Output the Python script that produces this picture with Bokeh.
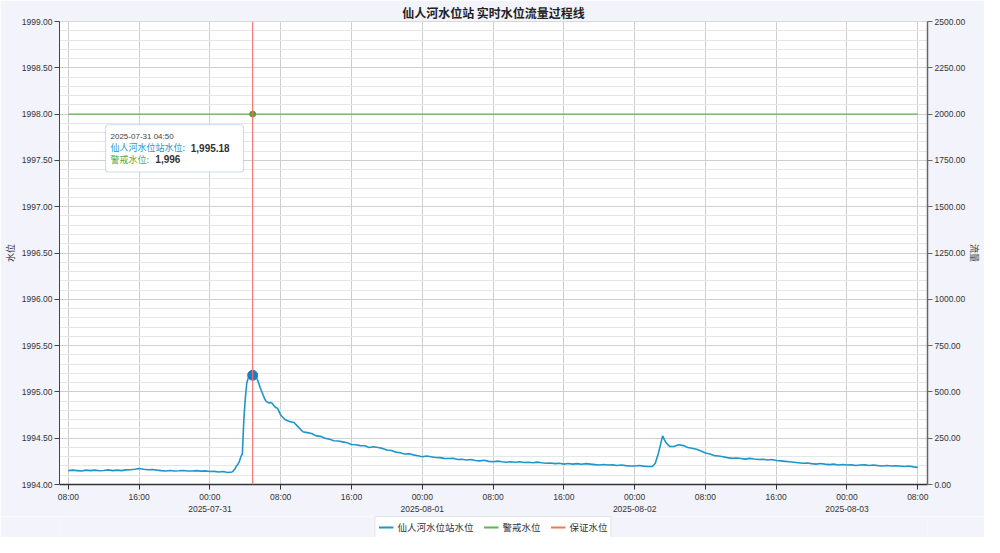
import pandas as pd
from bokeh.plotting import figure
from bokeh.layouts import column
from bokeh.models import (Range1d, LinearAxis, FixedTicker, SingleIntervalTicker,
                          CustomJSTickFormatter, NumeralTickFormatter, Span, Legend,
                          LegendItem, BoxAnnotation, ColumnDataSource, Label)
from bokeh.embed import file_html
from bokeh.resources import INLINE

# ---------------- data ----------------
day1_date = "2025-07-30"
day1_times = ["08:00", "08:30", "09:00", "09:30", "10:00", "10:30", "11:00", "11:30",
              "12:00", "12:30", "13:00", "13:30", "14:00", "14:30", "15:00", "15:30",
              "16:00", "16:30", "17:00", "17:30", "18:00", "18:30", "19:00", "19:30",
              "20:00", "20:30", "21:00", "21:30", "22:00", "22:30", "23:00", "23:30"]
day1_level = [1994.150, 1994.155, 1994.150, 1994.145, 1994.155, 1994.150, 1994.155, 1994.148,
              1994.152, 1994.158, 1994.150, 1994.155, 1994.150, 1994.158, 1994.160, 1994.165,
              1994.172, 1994.165, 1994.160, 1994.162, 1994.155, 1994.150, 1994.146, 1994.152,
              1994.145, 1994.148, 1994.152, 1994.145, 1994.146, 1994.150, 1994.144, 1994.147]

day2_date = "2025-07-31"
day2_times = ["00:00", "00:30", "01:00", "01:30", "02:00", "02:30", "02:40", "02:50",
              "03:00", "03:10", "03:20", "03:30", "03:40", "03:50", "04:00", "04:10",
              "04:20", "04:30", "04:40", "04:50", "05:00", "05:10", "05:20", "05:30",
              "05:40", "05:50", "06:00", "06:10", "06:20", "06:30", "06:40", "06:50",
              "07:00", "07:20", "07:40", "08:00", "08:30", "09:00", "09:30", "10:00",
              "10:30", "11:00", "11:30", "12:00", "12:30", "13:00", "13:30", "14:00",
              "14:30", "15:00", "15:30", "16:00", "16:30", "17:00", "17:30", "18:00",
              "18:30", "19:00", "19:30", "20:00", "20:30", "21:00", "21:30", "22:00",
              "22:30", "23:00", "23:30"]
day2_level = [1994.140, 1994.142, 1994.135, 1994.140, 1994.130, 1994.135, 1994.150, 1994.170,
              1994.200, 1994.220, 1994.250, 1994.300, 1994.330, 1994.700, 1994.930, 1995.100,
              1995.150, 1995.160, 1995.170, 1995.180, 1995.170, 1995.160, 1995.140, 1995.100,
              1995.050, 1995.010, 1994.970, 1994.930, 1994.900, 1994.890, 1994.880, 1994.885,
              1994.880, 1994.840, 1994.820, 1994.750, 1994.700, 1994.680, 1994.670, 1994.620,
              1994.570, 1994.560, 1994.550, 1994.525, 1994.520, 1994.500, 1994.490, 1994.472,
              1994.470, 1994.460, 1994.450, 1994.432, 1994.430, 1994.420, 1994.418, 1994.400,
              1994.408, 1994.400, 1994.390, 1994.372, 1994.368, 1994.350, 1994.342, 1994.330,
              1994.332, 1994.320, 1994.310]

day3_date = "2025-08-01"
day3_times = ["00:00", "00:30", "01:00", "01:30", "02:00", "02:30", "03:00", "03:30",
              "04:00", "04:30", "05:00", "05:30", "06:00", "06:30", "07:00", "07:30",
              "08:00", "08:30", "09:00", "09:30", "10:00", "10:30", "11:00", "11:30",
              "12:00", "12:30", "13:00", "13:30", "14:00", "14:30", "15:00", "15:30",
              "16:00", "16:30", "17:00", "17:30", "18:00", "18:30", "19:00", "19:30",
              "20:00", "20:30", "21:00", "21:30", "22:00", "22:30", "23:00", "23:30"]
day3_level = [1994.300, 1994.308, 1994.300, 1994.292, 1994.290, 1994.282, 1994.280, 1994.284,
              1994.270, 1994.272, 1994.265, 1994.270, 1994.260, 1994.255, 1994.262, 1994.250,
              1994.245, 1994.252, 1994.245, 1994.240, 1994.246, 1994.240, 1994.245, 1994.238,
              1994.240, 1994.235, 1994.242, 1994.235, 1994.230, 1994.232, 1994.225, 1994.230,
              1994.220, 1994.226, 1994.220, 1994.225, 1994.218, 1994.225, 1994.220, 1994.215,
              1994.210, 1994.216, 1994.210, 1994.212, 1994.205, 1994.210, 1994.204, 1994.200]

day4_date = "2025-08-02"
day4_times = ["00:00", "00:30", "01:00", "01:30", "02:00", "02:20", "02:40", "03:00",
              "03:10", "03:20", "03:30", "03:45", "04:00", "04:30", "05:00", "05:30",
              "06:00", "06:30", "07:00", "07:30", "08:00", "08:30", "09:00", "09:30",
              "10:00", "10:30", "11:00", "11:30", "12:00", "12:30", "13:00", "13:30",
              "14:00", "14:30", "15:00", "15:30", "16:00", "16:30", "17:00", "17:30",
              "18:00", "18:30", "19:00", "19:30", "20:00", "20:30", "21:00", "21:30",
              "22:00", "22:30", "23:00", "23:30"]
day4_level = [1994.200, 1994.205, 1994.198, 1994.195, 1994.195, 1994.230, 1994.330, 1994.460,
              1994.525, 1994.490, 1994.460, 1994.430, 1994.410, 1994.412, 1994.430, 1994.420,
              1994.400, 1994.392, 1994.380, 1994.362, 1994.340, 1994.330, 1994.312, 1994.308,
              1994.300, 1994.290, 1994.282, 1994.286, 1994.280, 1994.274, 1994.282, 1994.275,
              1994.270, 1994.272, 1994.265, 1994.270, 1994.260, 1994.255, 1994.250, 1994.245,
              1994.240, 1994.235, 1994.230, 1994.232, 1994.225, 1994.220, 1994.226, 1994.220,
              1994.215, 1994.220, 1994.210, 1994.216]

day5_date = "2025-08-03"
day5_times = ["00:00", "00:30", "01:00", "01:30", "02:00", "02:30", "03:00", "03:30",
              "04:00", "04:30", "05:00", "05:30", "06:00", "06:30", "07:00", "07:30", "08:00"]
day5_level = [1994.210, 1994.212, 1994.205, 1994.210, 1994.212, 1994.205, 1994.210, 1994.204,
              1994.200, 1994.206, 1994.200, 1994.202, 1994.200, 1994.195, 1994.200, 1994.190,
              1994.185]

warn_level_value = 1998.0
cursor_time = "2025-07-31 04:50"
cursor_level = 1995.18
tooltip_station_text = "1,995.18"
tooltip_warn_text = "1,996"

series_names = ["仙人河水位站水位", "警戒水位", "保证水位"]
series_colors = ["#1f95cc", "#64b450", "#ee7a52"]
title_text = "仙人河水位站 实时水位流量过程线"

# ---------------- build ----------------
days = [(day1_date, day1_times, day1_level), (day2_date, day2_times, day2_level),
        (day3_date, day3_times, day3_level), (day4_date, day4_times, day4_level),
        (day5_date, day5_times, day5_level)]
t_all, v_all = [], []
for d, ts, vs in days:
    t_all += [pd.Timestamp(f"{d} {t}") for t in ts]
    v_all += vs
src = ColumnDataSource(dict(t=t_all, v=v_all, w=[warn_level_value] * len(t_all)))

def ms(ts):
    return pd.Timestamp(ts).value / 1e6

CJK = "Noto Sans CJK SC"
NUM = "Liberation Sans"
BG = "#f3f3fb"

x_start = pd.Timestamp("2025-07-30 07:00")
x_end = pd.Timestamp("2025-08-03 09:06")

p = figure(width=984, height=516, output_backend="svg", toolbar_location=None,
           x_axis_type="datetime", x_range=Range1d(x_start, x_end),
           y_range=Range1d(1994, 1999),
           min_border_left=0, min_border_right=0, min_border_top=18, min_border_bottom=0)

p.background_fill_color = "white"
p.border_fill_color = BG
p.outline_line_color = "#d8d8d8"

p.title.text = title_text
p.title.text_font = CJK
p.title.text_font_size = "12px"
p.title.text_font_style = "bold"
p.title.text_color = "#222222"
p.title.align = "center"
p.title.standoff = 2

# x axis ticks every 8 hours
tick_times = pd.date_range(t_all[0], t_all[-1], freq="8h")
tick_ms = [int(ts.value // 10**6) for ts in tick_times]
xa = p.xaxis[0]
xa.ticker = FixedTicker(ticks=tick_ms)
xa.formatter = CustomJSTickFormatter(code="""
const d = new Date(tick);
const p2 = (n) => String(n).padStart(2, '0');
let s = p2(d.getUTCHours()) + ':' + p2(d.getUTCMinutes());
if (d.getUTCHours() === 0 && d.getUTCMinutes() === 0) {
  s += '\\n' + d.getUTCFullYear() + '-' + p2(d.getUTCMonth() + 1) + '-' + p2(d.getUTCDate());
}
return s;
""")
xa.major_label_text_font = NUM
xa.major_label_text_font_size = "8.5px"
xa.major_label_text_color = "#333333"
xa.axis_line_color = "#333333"
xa.axis_line_width = 1.5
xa.major_tick_line_color = "#333333"
xa.major_tick_out = 5
xa.major_tick_in = 0
xa.minor_tick_line_color = None
xa.major_label_standoff = 2

ya = p.yaxis[0]
ya.ticker = SingleIntervalTicker(interval=0.5, num_minor_ticks=5)
ya.formatter = NumeralTickFormatter(format="0.00")
ya.axis_label = "水位"
ya.axis_label_text_font = CJK
ya.axis_label_text_font_size = "9px"
ya.axis_label_text_font_style = "normal"
ya.axis_label_text_color = "#333333"
ya.axis_label_standoff = 2
ya.major_label_text_font = NUM
ya.major_label_text_font_size = "8.5px"
ya.major_label_text_color = "#333333"
ya.axis_line_color = "#444444"
ya.major_tick_line_color = "#444444"
ya.major_tick_out = 5
ya.major_tick_in = 0
ya.minor_tick_line_color = None
ya.major_label_standoff = 2

p.extra_y_ranges = {"flow": Range1d(0, 2500)}
ra = LinearAxis(y_range_name="flow", axis_label="流量",
                ticker=SingleIntervalTicker(interval=250),
                formatter=NumeralTickFormatter(format="0.00"))
ra.axis_label_text_font = CJK
ra.axis_label_text_font_size = "9px"
ra.axis_label_text_font_style = "normal"
ra.axis_label_text_color = "#333333"
ra.axis_label_standoff = 0
ra.major_label_text_font = NUM
ra.major_label_text_font_size = "8.5px"
ra.major_label_text_color = "#333333"
ra.axis_line_color = "#666666"
ra.axis_line_width = 1.5
ra.major_tick_line_color = "#666666"
ra.major_tick_out = 5
ra.major_tick_in = 0
ra.minor_tick_line_color = None
ra.major_label_standoff = 2
p.add_layout(ra, "right")

p.xgrid.grid_line_color = "#cfcfcf"
p.ygrid.grid_line_color = "#cfcfcf"
p.ygrid.minor_grid_line_color = "#e6e6e6"

# series
p.line("t", "v", source=src, line_color=series_colors[0], line_width=1.6)
p.line("t", "w", source=src, line_color=series_colors[1], line_width=1.3)

cursor = pd.Timestamp(cursor_time)
p.add_layout(Span(location=cursor, dimension="height", line_color="#f27373", line_width=1.2))
p.scatter([cursor], [cursor_level], size=10, fill_color="#1c7dc2", line_color="#1c7dc2")
p.scatter([cursor], [warn_level_value], size=6, fill_color="#5a9e2e", line_color="#5a9e2e")

# tooltip
p.add_layout(BoxAnnotation(left=ms("2025-07-30 12:12"), right=ms("2025-07-31 03:48"),
                           bottom=1997.375, top=1997.885,
                           fill_color="white", fill_alpha=1.0, line_color="#4b9bc4",
                           line_width=1.2, border_radius=3, level="annotation"))
tx0 = ms("2025-07-30 12:46")
tips = [
    (tx0, 1997.755, cursor_time, NUM, "8px", "normal", "#444444"),
    (tx0, 1997.635, series_names[0] + ":", CJK, "9px", "normal", series_colors[0]),
    (ms("2025-07-30 21:50"), 1997.635, tooltip_station_text, NUM, "10px", "bold", "#333333"),
    (tx0, 1997.51, series_names[1] + ":", CJK, "9px", "normal", "#5aaa3c"),
    (ms("2025-07-30 17:50"), 1997.51, tooltip_warn_text, NUM, "10px", "bold", "#333333"),
]
for x, y, txt, font, size, style, color in tips:
    p.add_layout(Label(x=x, y=y, text=txt, text_font=font, text_font_size=size,
                       text_font_style=style, text_color=color, text_baseline="middle",
                       level="overlay"))

# legend in a strip under the chart
lf = figure(width=984, height=21, output_backend="svg", toolbar_location=None,
            x_range=Range1d(0, 1), y_range=Range1d(0, 1), min_border=0)
lf.axis.visible = False
lf.grid.visible = False
lf.outline_line_color = None
lf.background_fill_color = BG
lf.border_fill_color = BG
items = []
for name, color in zip(series_names, series_colors):
    r = lf.line([2, 3], [2, 3], line_color=color, line_width=1.8)
    items.append(LegendItem(label=name, renderers=[r]))
legend = Legend(items=items, orientation="horizontal", location="center",
                label_text_font=CJK, label_text_font_size="9.5px", label_text_color="#333333",
                glyph_width=15, glyph_height=10, label_standoff=4, spacing=10,
                padding=3, margin=0, border_line_color="#c8c8c8",
                background_fill_color="white", background_fill_alpha=1.0)
lf.add_layout(legend, "center")

open("out.html", "w").write(file_html(column(p, lf, spacing=0), INLINE))
